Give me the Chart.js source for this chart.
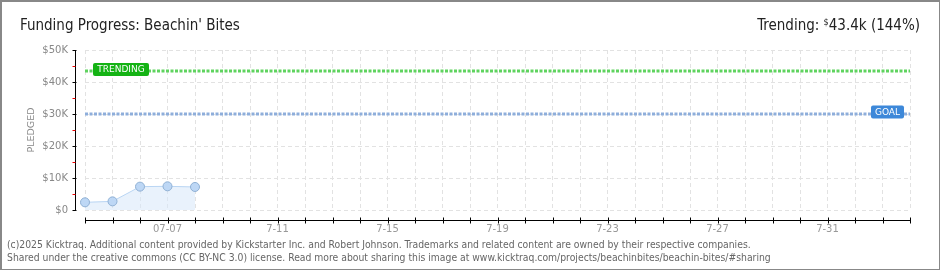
<!DOCTYPE html>
<html>
<head>
<meta charset="utf-8">
<script src="https://cdn.jsdelivr.net/npm/chart.js@4/dist/chart.umd.min.js"></script>
<style>
  html, body { margin: 0; padding: 0; background: #fff; }
  #wrap { position: relative; width: 940px; height: 270px; box-sizing: border-box; border: 1px solid #888; border-left-width: 2px; border-top-width: 2px; overflow: hidden; }
  #chart { position: absolute; left: -2px; top: -2px; }
  .hdr { position: absolute; font-family: "Liberation Sans Narrow", "DejaVu Sans Condensed", sans-serif; color: #222; font-size: 15px; }
  #title { left: 18px; top: 14px; }
  #trend { right: 19px; top: 14px; }
  #trend sup { font-size: 9px; vertical-align: 5px; }
  .foot { position: absolute; left: 5px; font-family: "Liberation Sans Narrow", "DejaVu Sans Condensed", sans-serif; font-size: 10.3px; color: #666; white-space: nowrap; }
</style>
</head>
<body>
<div id="wrap">
  <canvas id="chart" width="940" height="270"></canvas>
  <div class="hdr" id="title">Funding Progress: Beachin' Bites</div>
  <div class="hdr" id="trend">Trending: <sup>$</sup>43.4k (144%)</div>
  <div class="foot" style="top:236px">(c)2025 Kicktraq. Additional content provided by Kickstarter Inc. and Robert Johnson. Trademarks and related content are owned by their respective companies.</div>
  <div class="foot" style="top:249px">Shared under the creative commons (CC BY-NC 3.0) license. Read more about sharing this image at www.kicktraq.com/projects/beachinbites/beachin-bites/#sharing</div>
</div>
<script>
// campaign days shown on the x axis
const days = ['07-04', '07-05', '07-06', '07-07', '07-08', '07-09', '07-10', '07-11', '07-12', '07-13',
              '07-14', '07-15', '07-16', '07-17', '07-18', '07-19', '07-20', '07-21', '07-22', '07-23',
              '07-24', '07-25', '07-26', '07-27', '07-28', '07-29', '07-30', '07-31', '08-01', '08-02', '08-03'];
const tickLabels = ['07-07', '7-11', '7-15', '7-19', '7-23', '7-27', '7-31'];
const pledged = [2400, 2700, 7300, 7400, 7200];
const trending = 43400;
const goal = 30000;
const yTicks = [0, 10000, 20000, 30000, 40000, 50000];

const gridColor = '#e2e2e2';

// axis lines sit a little away from the plot, drawn on the scales' own pixels
const axesPlugin = {
    id: 'offsetAxes',
    afterDraw(chart) {
        const ctx = chart.ctx;
        const x = chart.scales.x, y = chart.scales.y;
        const area = chart.chartArea;
        ctx.save();
        ctx.lineWidth = 1;
        // y axis
        const ax = area.left - 9.5;
        ctx.strokeStyle = '#000';
        ctx.beginPath();
        ctx.moveTo(ax, y.getPixelForValue(0));
        ctx.lineTo(ax, y.getPixelForValue(50000));
        ctx.stroke();
        for (let v = 0; v <= 50000; v += 5000) {
            const py = Math.round(y.getPixelForValue(v)) + 0.5;
            ctx.beginPath();
            if (v % 10000 === 0) {
                ctx.strokeStyle = '#000';
                ctx.moveTo(ax - 3, py);
                ctx.lineTo(ax + 1, py);
            } else {
                ctx.strokeStyle = '#e00';
                ctx.moveTo(ax - 3, py);
                ctx.lineTo(ax, py);
            }
            ctx.stroke();
        }
        // x axis
        const ay = area.bottom + 10.5;
        ctx.strokeStyle = '#000';
        ctx.beginPath();
        ctx.moveTo(x.getPixelForValue(0), ay);
        ctx.lineTo(x.getPixelForValue(days.length - 1), ay);
        ctx.stroke();
        for (let i = 0; i < days.length; i++) {
            const px = Math.round(x.getPixelForValue(i)) + 0.5;
            ctx.beginPath();
            ctx.moveTo(px, ay - 3);
            ctx.lineTo(px, ay + 3);
            ctx.stroke();
        }
        // badges
        const badge = (text, bx, by, w, color) => {
            ctx.fillStyle = color;
            ctx.beginPath();
            ctx.roundRect(bx, by - 6.5, w, 13, 2);
            ctx.fill();
            ctx.fillStyle = '#fff';
            ctx.font = '9px "DejaVu Sans"';
            ctx.textBaseline = 'middle';
            ctx.textAlign = 'center';
            ctx.fillText(text, bx + w / 2, by + 0.5);
        };
        badge('TRENDING', area.left + 8, y.getPixelForValue(trending) - 1.5, 56, '#14b314');
        badge('GOAL', area.right - 39, y.getPixelForValue(goal) - 2, 33, '#3d88d9');
        ctx.restore();
    }
};

const flat = v => days.map(() => v);

new Chart(document.getElementById('chart'), {
    type: 'line',
    data: {
        labels: days,
        datasets: [{
            label: 'Pledged',
            data: pledged,
            borderColor: '#b9d5f3',
            borderWidth: 1,
            backgroundColor: 'rgba(215, 232, 250, 0.55)',
            fill: 'origin',
            tension: 0,
            pointRadius: 4.5,
            pointBackgroundColor: '#bdd7f5',
            pointBorderColor: '#8fb0d4',
            pointBorderWidth: 1,
            order: 1
        }, {
            label: 'Trending',
            data: flat(trending),
            borderColor: '#5fd35f',
            borderWidth: 3,
            borderDash: [3, 1.5],
            pointRadius: 0,
            fill: false,
            order: 2
        }, {
            label: 'Goal',
            data: flat(goal),
            borderColor: '#8eaedb',
            borderWidth: 3,
            borderDash: [3, 1.5],
            pointRadius: 0,
            fill: false,
            order: 3
        }]
    },
    options: {
        responsive: false,
        animation: false,
        layout: { padding: { left: 20, right: 30, top: 50, bottom: 20 } },
        plugins: { legend: { display: false }, tooltip: { enabled: false } },
        scales: {
            x: {
                grid: { color: gridColor, drawTicks: false },
                border: { display: false, dash: [4, 3] },
                afterFit(scale) { scale.height = 40; },
                ticks: {
                    autoSkip: false,
                    maxRotation: 0,
                    padding: 13,
                    color: '#999',
                    font: { family: 'DejaVu Sans', size: 10 },
                    callback: (v, i) => (i >= 3 && (i - 3) % 4 === 0) ? tickLabels[(i - 3) / 4] : ''
                }
            },
            y: {
                min: 0,
                max: 50000,
                afterBuildTicks(scale) { scale.ticks = yTicks.map(v => ({ value: v })); },
                afterFit(scale) { scale.width = 65; },
                grid: { color: gridColor, drawTicks: false },
                border: { display: false, dash: [4, 3] },
                title: { display: true, text: 'PLEDGED', color: '#888', font: { family: 'DejaVu Sans', size: 9.5 }, padding: { top: 6 } },
                ticks: {
                    padding: 17,
                    color: '#888',
                    font: { family: 'DejaVu Sans', size: 10 },
                    callback: v => v === 0 ? '$0' : '$' + (v / 1000) + 'K'
                }
            }
        }
    },
    plugins: [axesPlugin]
});
</script>
</body>
</html>
